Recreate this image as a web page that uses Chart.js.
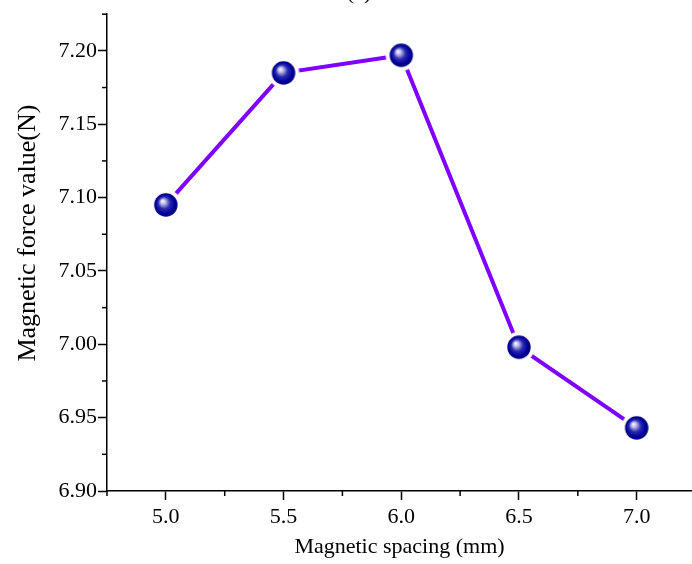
<!DOCTYPE html>
<html>
<head>
<meta charset="utf-8">
<script src="https://cdn.jsdelivr.net/npm/chart.js@4/dist/chart.umd.min.js"></script>
<style>
  html, body { margin: 0; padding: 0; background: #fff; }
  #wrap { width: 692px; height: 564px; }
</style>
</head>
<body>
<div id="wrap"><canvas id="forceChart"></canvas></div>
<script>
"use strict"

// magnetic spacing (mm) vs magnetic force (N)
const spacing = [5.0, 5.5, 6.0, 6.5, 7.0];
const force = [7.095, 7.185, 7.197, 6.998, 6.943];

const xMin = 4.75, xMax = 7.235, xStep = 0.5;
const yMin = 6.90, yMax = 7.225, yStep = 0.05;

const serif = "'Liberation Serif', 'DejaVu Serif', serif";

// shiny blue ball with a white halo so the line stops short of it
function makeBall() {
  let c = document.createElement('canvas');
  c.width = 32; c.height = 32;
  let g = c.getContext('2d');
  g.fillStyle = '#ffffff';
  g.beginPath(); g.arc(16, 16, 15.5, 0, Math.PI * 2); g.fill();
  let grad = g.createRadialGradient(12.5, 12, 0, 16, 16, 12);
  grad.addColorStop(0, '#ffffff');
  grad.addColorStop(0.2, '#c0c0ea');
  grad.addColorStop(0.5, '#2a2ab0');
  grad.addColorStop(0.8, '#00009c');
  grad.addColorStop(1, '#000070');
  g.fillStyle = grad;
  g.beginPath(); g.arc(16, 16, 11.7, 0, Math.PI * 2); g.fill();
  return c;
}

// small in-between ticks, placed through the chart's scales
const minorTicks = {
  id: 'minorTicks',
  afterDraw(chart) {
    let ctx = chart.ctx;
    let xs = chart.scales.x, ys = chart.scales.y;
    let area = chart.chartArea;
    ctx.save();
    ctx.strokeStyle = '#000';
    ctx.lineWidth = 1.5;
    for (let v = yMin + yStep / 2; v <= yMax + 1e-9; v += yStep) {
      let py = ys.getPixelForValue(v);
      ctx.beginPath(); ctx.moveTo(area.left - 5, py); ctx.lineTo(area.left, py); ctx.stroke();
    }
    for (let v = xMin; v <= xMax + 1e-9; v += xStep) {
      let px = xs.getPixelForValue(v);
      ctx.beginPath(); ctx.moveTo(px, area.bottom); ctx.lineTo(px, area.bottom + 5); ctx.stroke();
    }
    // panel letter, cut off by the top edge as in the figure
    ctx.fillStyle = '#000';
    ctx.font = '22px ' + serif;
    ctx.textAlign = 'center';
    ctx.textBaseline = 'alphabetic';
    ctx.fillText('(a)', 359, -1);
    ctx.restore();
  }
};

const ctx = document.getElementById('forceChart').getContext('2d');
const forceChart = new Chart(ctx, {
  type: 'line',
  data: {
    datasets: [{
      data: spacing.map((s, i) => ({ x: s, y: force[i] })),
      borderColor: '#7f00ff',
      borderWidth: 4,
      borderCapStyle: 'round',
      pointStyle: makeBall(),
      pointRadius: 12,
      tension: 0
    }]
  },
  options: {
    responsive: true,
    maintainAspectRatio: false,
    animation: false,
    events: [],
    layout: { autoPadding: false, padding: { top: 11, right: 0, left: 0, bottom: 0 } },
    plugins: { legend: { display: false }, tooltip: { enabled: false } },
    scales: {
      x: {
        type: 'linear',
        min: xMin,
        max: xMax,
        afterFit(scale) { scale.height = 73; },
        ticks: {
          stepSize: xStep,
          includeBounds: false,
          color: '#000',
          padding: 4,
          font: { family: serif, size: 22 },
          callback: v => v.toFixed(1)
        },
        grid: { drawOnChartArea: false, tickLength: 9, tickColor: '#000', tickWidth: 1.5 },
        border: { color: '#000', width: 1.5 },
        title: {
          display: true,
          text: 'Magnetic spacing (mm)',
          color: '#000',
          font: { family: serif, size: 22 },
          padding: { top: 0, bottom: 4 }
        }
      },
      y: {
        min: yMin,
        max: yMax,
        afterFit(scale) { scale.width = 107; },
        ticks: {
          stepSize: yStep,
          includeBounds: false,
          color: '#000',
          padding: 1,
          font: { family: serif, size: 22 },
          callback: v => v.toFixed(2)
        },
        grid: { drawOnChartArea: false, tickLength: 9, tickColor: '#000', tickWidth: 1.5 },
        border: { color: '#000', width: 1.5 },
        title: {
          display: true,
          // leading spaces nudge the label up, as it sits above centre in the figure
          text: '\u00a0\u00a0\u00a0\u00a0\u00a0\u00a0Magnetic force value(N)',
          color: '#000',
          font: { family: serif, size: 26 },
          padding: { top: 13, bottom: 0 }
        }
      }
    }
  },
  plugins: [minorTicks]
});
</script>
</body>
</html>
